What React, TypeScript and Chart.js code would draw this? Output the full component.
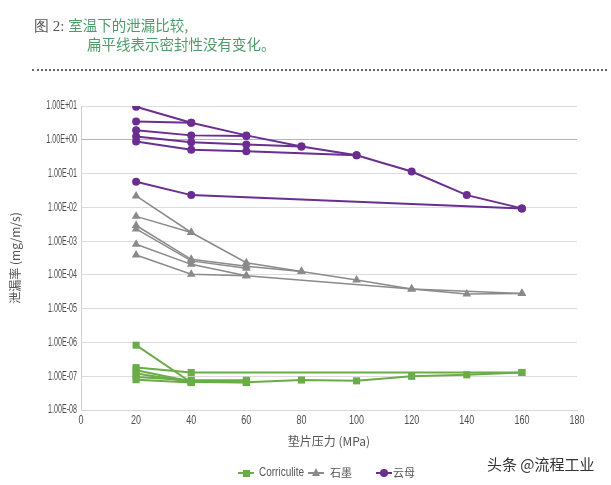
import React, { useEffect, useRef } from "react";
import { Chart, registerables } from "chart.js";

Chart.register(...registerables);

// ---- data ----
const pressures = [20, 40, 60, 80, 100, 120, 140, 160];
const xTickValues = [0, 20, 40, 60, 80, 100, 120, 140, 160, 180];
const yTickExponents = [1, 0, -1, -2, -3, -4, -5, -6, -7, -8];

// Corriculite (green squares)
const corri1 = [8.3e-7, 6.5e-8];
const corri2 = [1.8e-7, 1.29e-7, null, null, null, null, null, 1.29e-7];
const corri3 = [1.5e-7, 7.0e-8, 6.6e-8, 7.7e-8, 7.3e-8, 9.9e-8, 1.1e-7, 1.29e-7];
const corri4 = [1.2e-7, 6.8e-8, 6.5e-8];
const corri5 = [9.5e-8, 7.6e-8, 7.6e-8];
const corri6 = [7.9e-8, 6.5e-8];

// 石墨 graphite (gray triangles)
const graph1 = [0.0218, 0.0018, 0.00023, 0.000126, 0.000071, 0.000038, 0.000027, 0.000028];
const graph2 = [0.0054, 0.0018];
const graph3 = [0.0029, 0.00029, 0.00018, 0.000126];
const graph4 = [0.0023, 0.00026, 0.000158];
const graph5 = [0.00081, 0.000205, 0.000095];
const graph6 = [0.00039, 0.000104, 0.000095, null, null, 0.000038, null, 0.000028];

// 云母 mica (purple circles)
const mica1 = [9.5, 3.2, 1.35, 0.63, 0.35, 0.115, 0.023, 0.0093];
const mica2 = [3.5, 3.2];
const mica3 = [1.9, 1.35, 1.3];
const mica4 = [1.26, 0.85, 0.72, 0.63];
const mica5 = [0.89, 0.51, 0.46, null, 0.35];
const mica6 = [0.057, 0.023, null, null, null, null, null, 0.0093];

const GREEN = "#6aac47";
const GRAY = "#8a8a8a";
const PURPLE = "#6a2e91";

const corriSeries = [corri1, corri2, corri3, corri4, corri5, corri6];
const graphSeries = [graph1, graph2, graph3, graph4, graph5, graph6];
const micaSeries = [mica1, mica2, mica3, mica4, mica5, mica6];

const toPoints = (arr: (number | null)[]) =>
  pressures
    .map((x, i) => ({ x, y: arr[i] }))
    .filter((p) => p.y !== null && p.y !== undefined);

const fmtExp = (v: number) => {
  const e = Math.round(Math.log10(v));
  return `1.00E${e >= 0 ? "+" : "-"}${String(Math.abs(e)).padStart(2, "0")}`;
};

// Marker family names (fall back to Liberation Sans); text in them is drawn horizontally condensed
const X_TICK_FAMILY = "TickCondX, 'Liberation Sans', Arial, sans-serif";
const Y_TICK_FAMILY = "TickCondY, 'Liberation Sans', Arial, sans-serif";
const CJK = "'Noto Sans CJK SC', 'Noto Sans', sans-serif";

const condensePlugin = {
  id: "condenseTicks",
  beforeDraw(chart: any) {
    const ctx: any = chart.ctx;
    if (ctx.__condensed) return;
    ctx.__condensed = true;
    const orig = ctx.fillText;
    ctx.fillText = function (text: string, x: number, y: number, maxWidth?: number) {
      const f = String(this.font);
      const k = f.includes("TickCondY") ? 0.57 : f.includes("TickCondX") ? 0.72 : 0;
      if (k) {
        this.save();
        this.translate(x, y);
        this.scale(k, 1);
        orig.call(this, text, 0, 0);
        this.restore();
      } else if (maxWidth === undefined) {
        orig.call(this, text, x, y);
      } else {
        orig.call(this, text, x, y, maxWidth);
      }
    };
  },
};

export default function App() {
  const ref = useRef<HTMLCanvasElement>(null);

  useEffect(() => {
    document.body.style.margin = "0";
    const mk = (arr: (number | null)[], color: string, style: string, radius: number, width: number, label: string) => ({
      label,
      data: toPoints(arr),
      borderColor: color,
      backgroundColor: color,
      pointBackgroundColor: color,
      pointBorderColor: color,
      pointStyle: style,
      pointRadius: radius,
      pointBorderWidth: 0,
      borderWidth: width,
      tension: 0,
      fill: false,
    });
    const datasets = [
      ...graphSeries.map((s) => mk(s, GRAY, "triangle", 5, 1.5, "石墨")),
      ...corriSeries.map((s) => mk(s, GREEN, "rect", 5, 2, "Corriculite")),
      ...micaSeries.map((s) => mk(s, PURPLE, "circle", 4, 2, "云母")),
    ];
    const chart = new Chart(ref.current!, {
      type: "line",
      data: { datasets: datasets as any },
      plugins: [condensePlugin as any],
      options: {
        animation: false,
        responsive: false,
        layout: { padding: { left: 0, top: 106, right: 34, bottom: 29 } },
        plugins: { legend: { display: false }, tooltip: { enabled: false } },
        scales: {
          x: {
            type: "linear",
            min: 0,
            max: 180,
            afterBuildTicks: (s: any) => {
              s.ticks = xTickValues.map((v) => ({ value: v }));
            },
            ticks: {
              padding: 3,
              color: "#4d4d4d",
              font: { family: X_TICK_FAMILY, size: 12.5 },
              maxRotation: 0,
            },
            grid: { display: false, drawTicks: false },
            border: { display: true, color: "#d9d9d9" },
            title: {
              display: true,
              text: "垫片压力 (MPa)",
              color: "#555",
              font: { family: CJK, size: 12 },
              padding: { top: 0, bottom: 7 },
            },
            afterFit: (s: any) => {
              s.height = 46;
            },
          },
          y: {
            type: "logarithmic",
            min: 1e-8,
            max: 10,
            afterBuildTicks: (s: any) => {
              s.ticks = yTickExponents.map((e) => ({ value: parseFloat(`1e${e}`) }));
            },
            ticks: {
              padding: 4,
              color: "#4d4d4d",
              font: { family: Y_TICK_FAMILY, size: 12.5 },
              callback: (v: any) => fmtExp(Number(v)),
            },
            grid: {
              drawTicks: false,
              color: (c: any) => (c.tick && Math.abs(c.tick.value - 1) < 1e-9 ? "#b5b5b5" : "#dcdcdc"),
            },
            border: { display: true, color: "#d0d0d0" },
            title: {
              display: true,
              text: "泄漏率 (mg/m/s)",
              color: "#555",
              font: { family: CJK, size: 12 },
              padding: { top: 8, bottom: 0 },
            },
            afterFit: (s: any) => {
              s.width = 81;
            },
          },
        },
      },
    });
    return () => chart.destroy();
  }, []);

  const legendText: React.CSSProperties = {
    position: "absolute",
    top: 465,
    fontFamily: "'Liberation Sans', Arial, sans-serif",
    fontSize: 12.5,
    color: "#555",
    lineHeight: "15px",
    whiteSpace: "nowrap",
    transform: "scaleX(0.8)",
    transformOrigin: "left center",
  };
  const cjkLegend: React.CSSProperties = {
    position: "absolute",
    top: 465,
    fontFamily: CJK,
    fontSize: 11,
    color: "#555",
    lineHeight: "15px",
    whiteSpace: "nowrap",
  };
  const lineIcon = (left: number, color: string, marker: React.ReactNode) => (
    <div style={{ position: "absolute", left, top: 466, width: 16, height: 13 }}>
      <div style={{ position: "absolute", left: 0, top: 6, width: 16, height: 2, background: color }} />
      {marker}
    </div>
  );

  return (
    <div style={{ position: "relative", width: 611, height: 485, background: "#fff", overflow: "hidden" }}>
      <canvas ref={ref} width={611} height={485} style={{ position: "absolute", left: 0, top: 0 }} />
      <div
        style={{
          position: "absolute",
          left: 34,
          top: 15,
          fontSize: 14.5,
          lineHeight: "19px",
          whiteSpace: "nowrap",
          fontFamily: CJK,
          color: "#4f9c6b",
        }}
      >
        <span style={{ fontFamily: "'Liberation Serif', 'DejaVu Serif', serif", color: "#555", fontSize: 15 }}>图 2: </span>
        室温下的泄漏比较,
      </div>
      <div
        style={{
          position: "absolute",
          left: 87,
          top: 34,
          fontSize: 14.5,
          lineHeight: "19px",
          whiteSpace: "nowrap",
          fontFamily: CJK,
          color: "#4f9c6b",
        }}
      >
        扁平线表示密封性没有变化。
      </div>
      <div
        style={{
          position: "absolute",
          left: 32,
          top: 69,
          width: 575,
          height: 0,
          borderTop: "2px dotted #666",
        }}
      />
      {lineIcon(238, GREEN, <div style={{ position: "absolute", left: 4.5, top: 3.5, width: 7, height: 7, background: GREEN }} />)}
      <div style={{ ...legendText, left: 259 }}>Corriculite</div>
      {lineIcon(308, GRAY, (
        <div
          style={{
            position: "absolute",
            left: 3.5,
            top: 2,
            width: 0,
            height: 0,
            borderLeft: "4.5px solid transparent",
            borderRight: "4.5px solid transparent",
            borderBottom: `8px solid ${GRAY}`,
          }}
        />
      ))}
      <div style={{ ...cjkLegend, left: 330 }}>石墨</div>
      {lineIcon(376, PURPLE, <div style={{ position: "absolute", left: 4, top: 3, width: 8, height: 8, borderRadius: 4, background: PURPLE }} />)}
      <div style={{ ...cjkLegend, left: 393 }}>云母</div>
      <div
        style={{
          position: "absolute",
          left: 487,
          top: 454,
          fontSize: 15,
          lineHeight: "20px",
          fontFamily: CJK,
          color: "#333",
          whiteSpace: "nowrap",
        }}
      >
        头条 @流程工业
      </div>
    </div>
  );
}
